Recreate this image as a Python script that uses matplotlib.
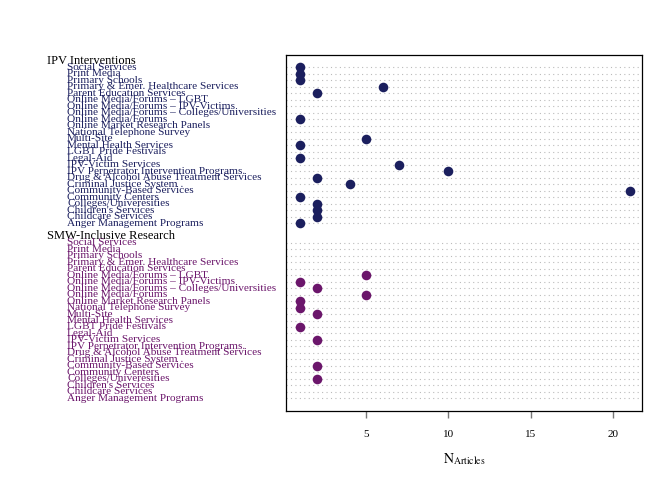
import numpy as np
import matplotlib
matplotlib.use("Agg")
import matplotlib.pyplot as plt

plt.rcParams["font.family"] = ["Liberation Serif", "DejaVu Serif"]
plt.rcParams["mathtext.fontset"] = "stix"

# category labels (top to bottom)
categories = [
    "Social Services",
    "Print Media",
    "Primary Schools",
    "Primary & Emer. Healthcare Services",
    "Parent Education Services",
    "Online Media/Forums – LGBT",
    "Online Media/Forums – IPV-Victims",
    "Online Media/Forums – Colleges/Universities",
    "Online Media/Forums",
    "Online Market Research Panels",
    "National Telephone Survey",
    "Multi-Site",
    "Mental Health Services",
    "LGBT Pride Festivals",
    "Legal-Aid",
    "IPV-Victim Services",
    "IPV Perpetrator Intervention Programs.",
    "Drug & Alcohol Abuse Treatment Services",
    "Criminal Justice System .",
    "Community-Based Services",
    "Community Centers",
    "Colleges/Univeresities",
    "Children's Services",
    "Childcare Services",
    "Anger Management Programs",
]

groups = ["IPV Interventions", "SMW-Inclusive Research"]
group_colors = ["#1b1f5e", "#6b166b"]

# article counts per category (0 = no point)
ipv_counts = [1, 1, 1, 6, 2, 0, 0, 0, 1, 0, 0, 5, 1, 0, 1, 7, 10, 2, 4, 21, 1, 2, 2, 2, 1]
smw_counts = [0, 0, 0, 0, 0, 5, 1, 2, 5, 1, 1, 2, 0, 1, 0, 2, 0, 0, 0, 2, 0, 2, 0, 0, 0]
all_counts = [ipv_counts, smw_counts]

fig = plt.figure(figsize=(6.72, 4.8), dpi=100)
ax = fig.add_axes([286 / 672, 1 - 410.7 / 480, (642 - 286) / 672, (410.7 - 55) / 480])

n = len(categories)
offset = n + 2
for g, (name, color, counts) in enumerate(zip(groups, group_colors, all_counts)):
    base = g * offset
    pos = base + np.arange(n)
    for p in pos:
        ax.axhline(p, color="#bbbbbb", lw=0.8, ls=(0, (1, 3)), zorder=1)
    counts = np.array(counts)
    mask = counts > 0
    ax.scatter(counts[mask], pos[mask], s=48, color=color, zorder=3, linewidths=0)
    # labels on the left, outside the panel
    ax.text(-0.671, base - 1, name, transform=ax.get_yaxis_transform(),
            ha="left", va="center", fontsize=9, color="black", clip_on=False)
    for p, lab in zip(pos, categories):
        ax.text(-0.615, p, lab, transform=ax.get_yaxis_transform(),
                ha="left", va="center", fontsize=8.1, color=color, clip_on=False)

ax.set_xlim(0.15, 21.73)
ax.set_ylim(2 * offset - 2 + 0.9, -1.92)
ax.set_yticks([])
ax.set_xticks([5, 10, 15, 20])
ax.tick_params(axis="x", length=5, width=1, color="#777777", labelsize=8, pad=9)
for s in ax.spines.values():
    s.set_color("black")
    s.set_linewidth(0.9)
ax.set_xlabel(r"$\mathrm{N}_{\mathrm{Articles}}$", fontsize=10, labelpad=9)

fig.savefig("out.png", dpi=100)
